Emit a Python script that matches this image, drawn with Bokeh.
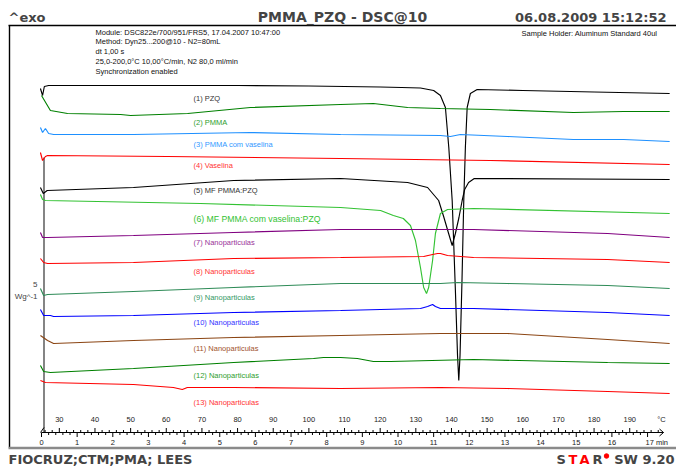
from bokeh.plotting import figure
from bokeh.models import Range1d, Label
from bokeh.embed import file_html
from bokeh.resources import INLINE

# ---------------- data (temperature in °C, heat flow in arbitrary display units) -------------
c1_T = [24.7, 25.3, 25.8, 27.0, 40, 60, 80, 100, 120, 126, 131.3, 135.0, 136.9, 138.3, 139.25,
        140.2, 141.1, 141.7, 142.05, 142.4, 142.95, 143.45, 143.9, 144.4, 145.3, 147.2, 160, 180, 201.2]
c1_v = [378, 371, 380, 381, 381, 381, 381, 380.5, 379.5, 379, 378.5, 376, 371, 359, 319,
        266, 176, 111, 86, 111, 186, 266, 319, 359, 373, 377, 376, 374.5, 373]

c2_T = [25.0, 27.5, 32.3, 47.2, 50.0, 66.0, 83.6, 108.9, 118.1, 127.7, 136.9, 150.9, 174.2, 188.3, 201.2]
c2_v = [371, 356, 353, 352, 351, 353, 359, 362, 363, 359, 358, 357, 354, 355, 355]

c3_T = [24.7, 25.3, 26.1, 27.0, 28.4, 50.8, 83.6, 108.9, 136.9, 139.7, 142.5, 155.7, 174.2, 188.3, 201.2]
c3_v = [339, 334, 338, 333, 332, 332, 334, 332, 331, 330, 332, 330, 327, 327, 325]

c4_T = [24.7, 25.3, 26.1, 26.7, 60.3, 108.9, 150.9, 201.2]
c4_v = [314, 306, 310, 311, 310, 308, 306, 302]

c5_T = [24.7, 25.5, 26.6, 50.8, 78.9, 108.9, 127.7, 133.3, 136.4, 137.8, 139.2, 140.2, 141.1,
        142.1, 143.0, 143.7, 144.8, 146.4, 201.2]
c5_v = [279, 273, 276, 279, 286, 288, 284, 279, 266, 250, 233, 221, 233, 249, 266, 277, 284, 288, 287]

c6_T = [24.7, 25.3, 26.1, 69.6, 108.9, 120.1, 123.7, 126.5, 128.5, 129.9, 131.3, 132.2, 133.0,
        133.6, 134.7, 135.5, 136.9, 138.9, 146.2, 201.2]
c6_v = [272, 267, 266, 263, 259, 256, 251, 248, 241, 226, 199, 179, 173, 179, 206, 233, 253, 257, 258, 253]

c7_T = [24.7, 25.3, 26.7, 50.8, 78.9, 108.9, 146.2, 183.8, 201.2]
c7_v = [234, 229, 229, 231, 234, 237, 237, 233, 229]

c8_T = [24.7, 25.6, 26.7, 50.8, 78.9, 108.9, 132.2, 134.7, 136.1, 136.9, 138.9, 146.2, 183.8, 201.2]
c8_v = [208, 204, 203, 204, 208, 209, 210, 212, 213, 213, 211, 209, 207, 204]

c9_T = [24.7, 25.6, 26.7, 50.8, 78.9, 108.9, 136.9, 141.7, 155.7, 183.8, 201.2]
c9_v = [178, 171, 172, 175, 179, 183, 183, 184, 183, 181, 178]

c10_T = [24.7, 25.6, 27.5, 28.4, 50.8, 78.9, 108.9, 131.3, 133.3, 134.7, 135.5, 136.9, 146.2, 183.8, 201.2]
c10_v = [157, 151, 151, 150, 151, 154, 156, 158, 160, 162, 160, 158, 158, 154, 151]

c11_T = [24.7, 26.7, 28.4, 50.8, 78.9, 108.9, 136.9, 155.7, 183.8, 201.2]
c11_v = [131, 126, 123, 126, 129, 131, 133, 133, 127, 123]

c12_T = [24.7, 25.6, 27.5, 50.8, 78.9, 101.3, 104.1, 108.9, 113.6, 118.1, 122.9, 146.2, 183.8, 201.2]
c12_v = [101, 95, 94, 98, 104, 108, 109, 109, 108, 105, 105, 107, 104, 103]

c13_T = [24.7, 26.1, 50.8, 62.0, 64.5, 65.9, 78.9, 108.9, 136.9, 155.7, 183.8, 201.2]
c13_v = [86, 84, 82, 79, 77, 79, 79, 78, 79, 78, 75, 73]

curve_names = ["(1) PZQ", "(2) PMMA", "(3) PMMA com vaselina", "(4) Vaselina", "(5) MF PMMA:PZQ",
               "(6) MF PMMA com vaselina:PZQ", "(7) Nanoparticulas", "(8) Nanoparticulas",
               "(9) Nanoparticulas", "(10) Nanoparticulas", "(11) Nanoparticulas",
               "(12) Nanoparticulas", "(13) Nanoparticulas"]

temp_tick_labels = [30, 40, 50, 60, 70, 80, 90, 100, 110, 120, 130, 140, 150, 160, 170, 180, 190]
minute_tick_labels = [0, 1, 2, 3, 4, 5, 6, 7, 8, 9, 10, 11, 12, 13, 14, 15, 16]

info_lines = ["Module: DSC822e/700/951/FRS5, 17.04.2007 10:47:00",
              "Method: Dyn25...200@10 - N2=80mL",
              "dt 1,00 s",
              "  25,0-200,0\u00b0C 10,00\u00b0C/min, N2 80,0 ml/min",
              "Synchronization enabled"]

# ---------------- styling / layout ----------------
curves = [(c1_T, c1_v), (c2_T, c2_v), (c3_T, c3_v), (c4_T, c4_v), (c5_T, c5_v), (c6_T, c6_v),
          (c7_T, c7_v), (c8_T, c8_v), (c9_T, c9_v), (c10_T, c10_v), (c11_T, c11_v),
          (c12_T, c12_v), (c13_T, c13_v)]
line_colors = ["#000000", "#008000", "#1E90FF", "#FF0000", "#000000", "#33C233", "#800080",
               "#FF0000", "#2E8B57", "#0000FF", "#8B4513", "#008000", "#FF0000"]
label_colors = ["#333333", "#2E9E2E", "#3399FF", "#FF3333", "#333333", "#33C233", "#993399",
                "#FF3333", "#339966", "#3333FF", "#A0522D", "#2E9E2E", "#FF3333"]
label_rows = [98, 121.7, 144, 165, 190, 218.3, 241.7, 270.7, 297.3, 322.3, 348.3, 375, 401.5]


def X(xr):  # layout helper: reference column -> °C
    return 25 + (xr - 41) / 3.565


def Y(yr):  # layout helper: reference row -> display units
    return 466 - yr


def MIN2T(m):  # heating programme 25 °C start, 10 K/min
    return 25 + 10 * m


p = figure(width=676, height=466, output_backend="svg", toolbar_location=None,
           x_range=Range1d(X(0), X(676)), y_range=Range1d(Y(466), Y(0)),
           min_border=0, x_axis_location=None, y_axis_location=None,
           outline_line_color=None, background_fill_color="white", border_fill_color="white")
p.grid.grid_line_color = None

SANS = "Liberation Sans"
BOLD = "DejaVu Sans"

# frame
p.segment(x0=[X(8)], y0=[Y(25)], x1=[X(676)], y1=[Y(25)], line_color="black", line_width=1.6)
p.segment(x0=[X(9)], y0=[Y(25)], x1=[X(9)], y1=[Y(447)], line_color="black", line_width=1.4)
p.segment(x0=[X(8)], y0=[Y(447.5)], x1=[X(676)], y1=[Y(447.5)], line_color="#8a8a8a", line_width=2.5)

# header
p.add_layout(Label(x=X(8), y=Y(17), text="^exo", text_font=BOLD, text_font_style="bold",
                   text_font_size="13px", text_baseline="middle", text_align="left"))
p.add_layout(Label(x=X(342), y=Y(16.5), text="PMMA_PZQ - DSC@10", text_font=BOLD,
                   text_font_style="bold", text_font_size="14px", text_baseline="middle",
                   text_align="center"))
p.add_layout(Label(x=X(666), y=Y(17), text="06.08.2009 15:12:52", text_font=BOLD,
                   text_font_style="bold", text_font_size="13px", text_baseline="middle",
                   text_align="right"))

for i, line in enumerate(info_lines):
    p.add_layout(Label(x=X(95), y=Y(31.7 + 9.75 * i), text=line, text_font=SANS,
                       text_font_size="7.5px", text_baseline="middle", text_align="left",
                       text_color="#111111"))
p.add_layout(Label(x=X(521), y=Y(33), text="Sample Holder: Aluminum Standard 40ul", text_font=SANS,
                   text_font_size="7.5px", text_baseline="middle", text_align="left",
                   text_color="#111111"))

# y scale bar
p.segment(x0=[X(43.5)], y0=[Y(157)], x1=[X(43.5)], y1=[Y(432)], line_color="#333333", line_width=1.2)
p.add_layout(Label(x=X(37), y=Y(284), text="5", text_font=SANS, text_font_size="8px",
                   text_baseline="middle", text_align="right"))
p.add_layout(Label(x=X(37), y=Y(296), text="Wg^-1", text_font=SANS, text_font_size="8px",
                   text_baseline="middle", text_align="right"))

# curves
for (T, v), col in zip(curves, line_colors):
    p.line(T, v, line_color=col, line_width=1.15)

# curve labels
for name, col, row in zip(curve_names, label_colors, label_rows):
    size = "8.7px" if name.startswith("(6)") else "7.5px"
    p.add_layout(Label(x=X(193), y=Y(row), text=name, text_font=SANS, text_font_size=size,
                       text_color=col, text_baseline="middle", text_align="left"))

# x axis (temperature above, time below)
axis_y = Y(432)
p.segment(x0=[X(41)], y0=[axis_y], x1=[X(663)], y1=[axis_y], line_color="black", line_width=1.2)
p.segment(x0=[X(40)], y0=[axis_y], x1=[X(43.5)], y1=[Y(427)], line_color="black", line_width=1.0)
p.segment(x0=[X(659), X(659)], y0=[Y(428.5), Y(435.5)], x1=[X(663), X(663)], y1=[axis_y, axis_y],
          line_color="black", line_width=1.0)

temp_minor = [t for t in range(26, 200, 2)]
p.segment(x0=temp_minor, y0=[axis_y] * len(temp_minor), x1=temp_minor,
          y1=[axis_y + (4.5 if t % 10 == 0 else 2.5) for t in temp_minor],
          line_color="black", line_width=1.0)
min_ticks = [i / 5 for i in range(0, 86)]
p.segment(x0=[MIN2T(m) for m in min_ticks], y0=[axis_y] * len(min_ticks),
          x1=[MIN2T(m) for m in min_ticks],
          y1=[axis_y - (4.5 if abs(m - round(m)) < 1e-9 else 2.5) for m in min_ticks],
          line_color="black", line_width=1.0)

p.text(x=temp_tick_labels, y=[Y(419)] * len(temp_tick_labels), text=[str(t) for t in temp_tick_labels],
       text_font_size="7.5px", text_align="center", text_baseline="middle",
       text_font={"value": SANS}, text_color="#222222")
p.add_layout(Label(x=X(661), y=Y(419), text="\u00b0C", text_font=SANS, text_font_size="7.5px",
                   text_baseline="middle", text_align="center", text_color="#222222"))
p.text(x=[MIN2T(m) for m in minute_tick_labels], y=[Y(442)] * len(minute_tick_labels),
       text=[str(m) for m in minute_tick_labels], text_font_size="7.5px", text_align="center",
       text_baseline="middle", text_font={"value": SANS}, text_color="#222222")
p.add_layout(Label(x=X(645), y=Y(442), text="17 min", text_font=SANS, text_font_size="7.5px",
                   text_baseline="middle", text_align="left", text_color="#222222"))

# footer (kept fully inside the canvas)
FOOT = dict(text_font=BOLD, text_font_style="bold", text_font_size="13px",
            text_baseline="bottom", text_align="left")
p.add_layout(Label(x=X(8), y=Y(466), text="FIOCRUZ;CTM;PMA; LEES", **FOOT))
p.add_layout(Label(x=X(556), y=Y(466), text="S", **FOOT))
p.add_layout(Label(x=X(568), y=Y(466), text="T", text_color="#FF0000", **FOOT))
p.add_layout(Label(x=X(579), y=Y(466), text="A", text_color="#FF0000", **FOOT))
p.add_layout(Label(x=X(592), y=Y(466), text="R", **FOOT))
p.scatter(x=[X(606)], y=[Y(455.5)], size=4.5, marker="circle", fill_color="#FF0000",
          line_color="#FF0000")
p.add_layout(Label(x=X(674), y=Y(466), text="SW 9.20", text_font=BOLD, text_font_style="bold",
                   text_font_size="13px", text_baseline="bottom", text_align="right"))

open("out.html", "w").write(file_html(p, INLINE))
